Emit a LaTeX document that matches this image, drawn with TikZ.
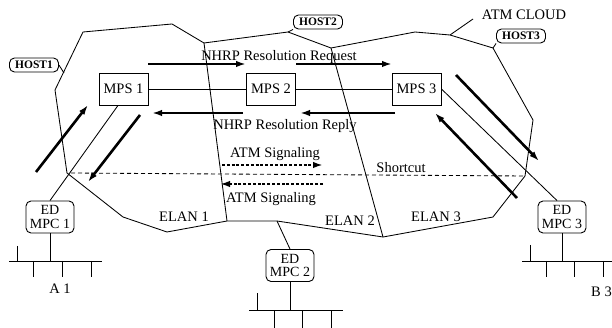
\documentclass[tikz,border=0pt]{standalone}
\usepackage{fontspec}
\setmainfont{Liberation Serif}
\usetikzlibrary{arrows.meta}
\begin{document}
\begin{tikzpicture}[x=1pt,y=-1pt,
  txt/.style={font=\fontsize{14.5}{14}\selectfont, inner sep=0pt, anchor=base},
  mps/.style={draw, line width=0.9pt, minimum width=49pt, minimum height=32pt, inner sep=0pt, font=\fontsize{14.5}{14}\selectfont},
  mpc/.style={draw, rounded corners=5pt, line width=0.9pt, minimum width=48pt, minimum height=32pt, inner sep=0pt, align=center, font=\fontsize{14}{13.5}\selectfont},
  host/.style={draw, rounded corners=5pt, line width=0.9pt, minimum width=49pt, minimum height=14pt, inner sep=0pt, font=\fontsize{11.5}{12}\selectfont\bfseries},
  ln/.style={line width=0.85pt},
  bigarrow/.style={line width=2.6pt, -{Latex[length=10pt,width=6.5pt]}},
  sigarrow/.style={line width=2.6pt, dash pattern=on 3pt off 1.8pt, -{Latex[length=10pt,width=6.5pt]}},
  bus/.style={line width=0.9pt},
]
\useasboundingbox (0,0) rectangle (612,328);

% cloud
\coordinate (c1) at (83,32);
\coordinate (c2) at (172,24);
\coordinate (c3) at (204,43);
\coordinate (c4) at (288,32);
\coordinate (c5) at (331,48);
\coordinate (c6) at (415,32);
\coordinate (c7) at (450,35);
\coordinate (c8) at (493,48);
\coordinate (c9) at (533,120);
\coordinate (c10) at (525,176);
\coordinate (c11) at (493,217);
\coordinate (c12) at (383,237);
\coordinate (c13) at (277,221);
\coordinate (c14) at (227,221);
\coordinate (c16) at (167,232);
\coordinate (c17) at (123,217);
\coordinate (c18) at (67,173);
\coordinate (c19) at (55,90);
\draw[ln] (c1) -- (c2) -- (c3) -- (c4) -- (c5) -- (c6) -- (c7) -- (c8) -- (c9)
  -- (c10) -- (c11) -- (c12) -- (c13) -- (c14) -- (c16) -- (c17) -- (c18) -- (c19) -- cycle;
\draw[ln] (c3) -- (c14);
\draw[ln] (c5) -- (c12);

% shortcut
\draw[ln, dash pattern=on 4pt off 3pt] (c18) ++(4,0) coordinate (s1) -- (c10);
\node[txt] (shortcut) at (401,173) {Shortcut};

% hosts
\node[host] (host1) at (34,65) {HOST1};
\node[host] (host2) at (318,22) {HOST2};
\node[host] (host3) at (521,36) {HOST3};
\coordinate (h1c) at (64,73);
\draw[ln] (host1.east) -- (h1c);
\draw[ln] (host2.south west) -- (c4);
\draw[ln] (host3.south west) -- (c8);

\node[txt] (cloud) at (524,20) {ATM CLOUD};
\coordinate (cp) at (473,19);
\draw[ln] (cp) -- (c7);

% MPS
\node[mps] (mps1) at (123.5,89) {MPS 1};
\node[mps] (mps2) at (271,89) {MPS 2};
\node[mps] (mps3) at (416.5,89) {MPS 3};
\draw[ln] (mps1.east) -- (mps2.west);
\draw[ln] (mps2.east) -- (mps3.west);

% MPC
\node[mpc] (mpc1) at (50,217) {ED\\MPC 1};
\node[mpc] (mpc2) at (290,265.5) {ED\\MPC 2};
\node[mpc] (mpc3) at (562,217) {ED\\MPC 3};
\draw[ln] ([xshift=-5.5pt]mps1.south) -- (mpc1.north);
\draw[ln] (mps3.east) -- ([xshift=-5pt]mpc3.north);
\draw[ln] (mpc2.north) -- (c13);

% NHRP arrows
\draw[bigarrow] (148,64) -- (246,64);
\draw[bigarrow] (296,64) -- (392,64);
\draw[bigarrow] (243,113) -- (152,113);
\draw[bigarrow] (395,113) -- (300,113);
\node[txt] (req) at (279,61) {NHRP Resolution Request};
\node[txt] (rep) at (285,130) {NHRP Resolution Reply};

% signaling
\draw[sigarrow] (222,165) -- (323,165);
\draw[sigarrow] (323,184) -- (220,184);
\node[txt] (sig1) at (275,158) {ATM Signaling};
\node[txt] (sig2) at (271,203) {ATM Signaling};

% diagonal arrows
\draw[bigarrow] (36,172) -- (88,105);
\draw[bigarrow] (140,115) -- (88,182);
\draw[bigarrow] (456,75) -- (539,161);
\draw[bigarrow] (517,198) -- (435,113);

% ELAN labels
\node[txt] (e1) at (184,222) {ELAN 1};
\node[txt] (e2) at (350,226) {ELAN 2};
\node[txt] (e3) at (436,222) {ELAN 3};

% buses
\draw[bus] (mpc1.south) -- (50,261);
\draw[bus] (9,261) -- (102,261);
\draw[bus] (17,246) -- (17,261);
\foreach \x in {33,62,91} \draw[bus] (\x,261) -- (\x,277);
\node[txt] (a1) at (60,293) {A 1};

\draw[bus] (mpc2.south) -- (290,310);
\draw[bus] (249,310) -- (343,310);
\draw[bus] (257,293) -- (257,310);
\foreach \x in {274,302,331} \draw[bus] (\x,310) -- (\x,328);

\draw[bus] (mpc3.south) -- (562,261);
\draw[bus] (522,261) -- (612,261);
\draw[bus] (530,245) -- (530,261);
\foreach \x in {546,574,603} \draw[bus] (\x,261) -- (\x,277);
\node[txt, anchor=base west] (b3) at (591,296) {B 3};
\end{tikzpicture}
\end{document}
